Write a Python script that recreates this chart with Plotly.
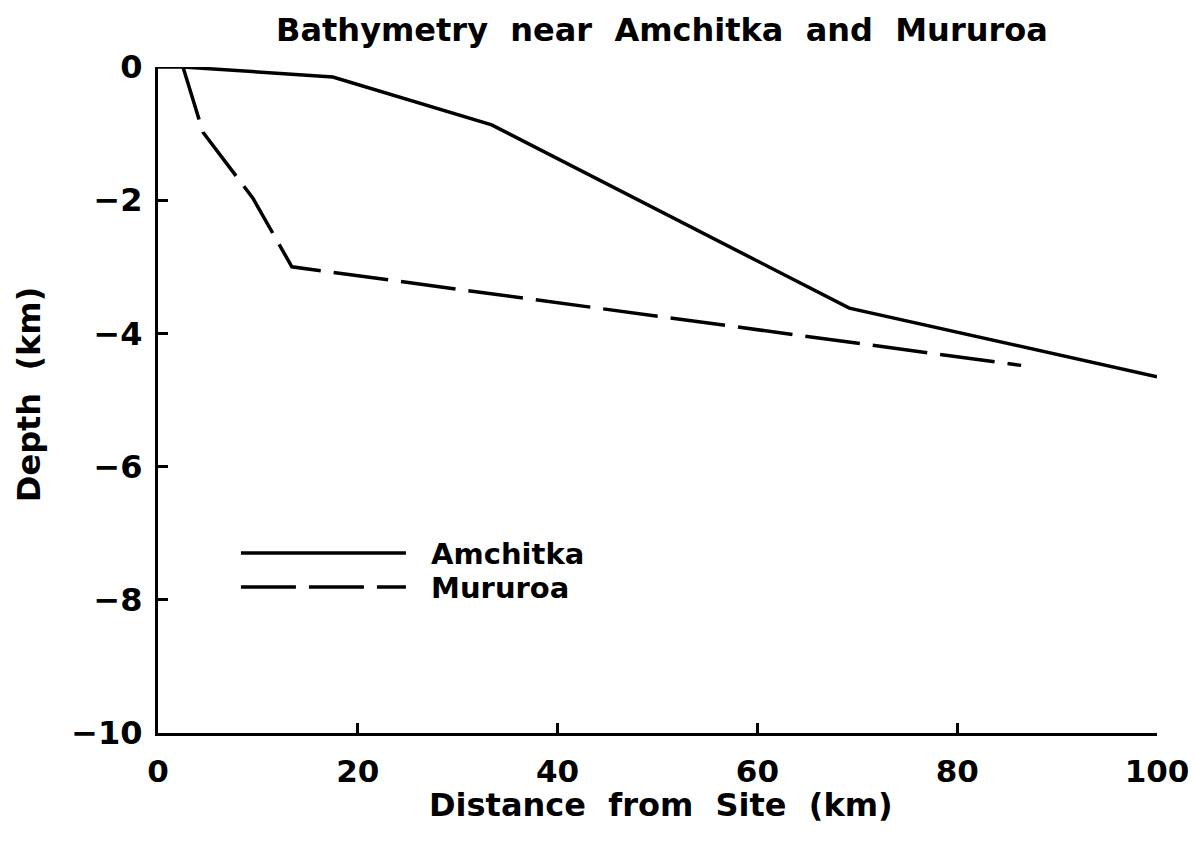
import plotly.graph_objects as go

# Amchitka profile (distance km, depth km)
amchitka_x = [0, 2.5, 17.5, 33.4, 69.2, 100]
amchitka_y = [0, 0, -0.15, -0.87, -3.62, -4.65]

# Mururoa profile
mururoa_x = [2.5, 4.5, 9.5, 13.4, 86.4]
mururoa_y = [0, -0.98, -1.97, -3.0, -4.48]

x_ticks = [0, 20, 40, 60, 80, 100]
y_ticks = [0, -2, -4, -6, -8, -10]

FONT = "DejaVu Sans"
BLACK = "black"
NB = "\u00a0"


def font(size=32):
    return dict(family=FONT, size=size, color=BLACK, weight="bold")


def wide(text):
    # the original lettering has very wide word gaps
    return text.replace(" ", " " + NB)


fig = go.Figure()
fig.add_trace(
    go.Scatter(
        x=amchitka_x,
        y=amchitka_y,
        mode="lines",
        name=NB + NB + "Amchitka",
        legend="legend",
        line=dict(color=BLACK, width=3.5),
    )
)
fig.add_trace(
    go.Scatter(
        x=mururoa_x,
        y=mururoa_y,
        mode="lines",
        name=NB + NB + "Mururoa",
        legend="legend2",
        line=dict(color=BLACK, width=3.5, dash="55px,13px"),
    )
)

axis_common = dict(
    showgrid=False,
    zeroline=False,
    showline=True,
    linecolor=BLACK,
    linewidth=3,
    ticks="inside",
    ticklen=10,
    tickwidth=2.5,
    tickcolor=BLACK,
    ticklabeloverflow="allow",
)

legend_common = dict(
    xanchor="left",
    yanchor="middle",
    bgcolor="rgba(0,0,0,0)",
    font=font(29),
    itemwidth=165,
    visible=True,
)

fig.update_layout(
    width=1189,
    height=829,
    plot_bgcolor="white",
    paper_bgcolor="white",
    showlegend=True,
    margin=dict(l=150, r=40, t=59, b=104, autoexpand=False),
    title=dict(
        text=wide("Bathymetry near Amchitka and Mururoa"),
        x=0.550,
        xanchor="center",
        y=0.974,
        yanchor="middle",
        font=font(32),
    ),
    xaxis=dict(range=[0, 100], tickvals=x_ticks, ticklabelstandoff=9,
               tickfont=font(31), **axis_common),
    yaxis=dict(range=[-10, 0], tickvals=y_ticks, ticklabelstandoff=6,
               tickfont=font(32), **axis_common),
    legend=dict(x=0.078, y=0.270, **legend_common),
    legend2=dict(x=0.078, y=0.219, **legend_common),
    annotations=[
        dict(
            text=wide("Distance from Site (km)"),
            xref="paper", yref="paper",
            x=0.5035, y=-0.108,
            xanchor="center", yanchor="middle",
            showarrow=False,
            font=font(32),
        ),
        dict(
            text=wide("Depth (km)"),
            xref="paper", yref="paper",
            x=-0.129, y=0.5075,
            xanchor="center", yanchor="middle",
            textangle=-90,
            showarrow=False,
            font=font(32),
        ),
    ],
)

fig.write_html("out.html")
